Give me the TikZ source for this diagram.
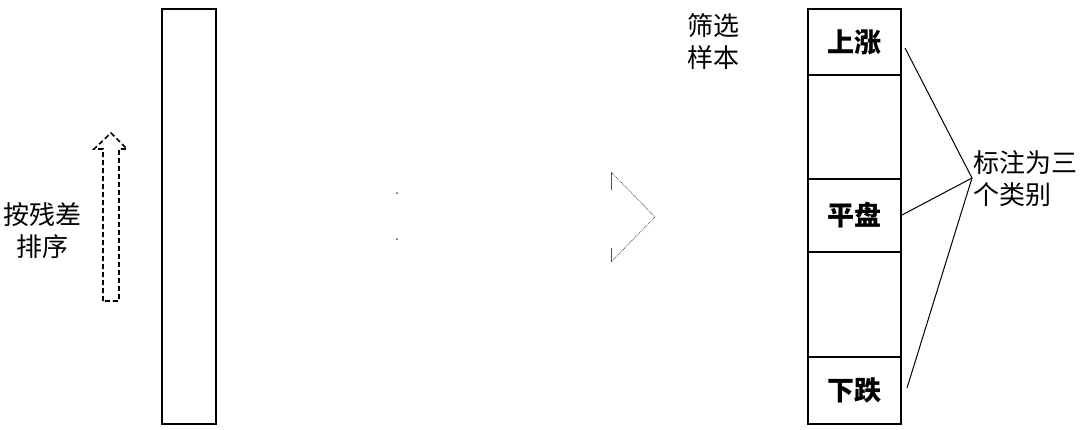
\documentclass[tikz,border=0pt]{standalone}
\usepackage{fontspec}
\setmainfont{Noto Sans CJK SC}
\usetikzlibrary{positioning}
\tikzset{
  cellbox/.style={draw=black, line width=2pt, minimum width=93pt, inner sep=0pt, font=\bfseries\fontsize{27}{27}\selectfont},
  note/.style={align=center, inner sep=0pt, font=\fontsize{26}{32}\selectfont},
  pointer/.style={draw=black, line width=1pt}
}
\begin{document}
\begin{tikzpicture}[x=1pt, y=-1pt]
  \useasboundingbox (0,0) rectangle (1080,429);
  % 左侧样本列
  \node[draw=black, line width=2pt, minimum width=54pt, minimum height=415pt, inner sep=0pt] (allbar) at (189,216.5) {};
  \node[note] (sortnote) at (43,231) {按残差\\排序};
  % 虚线箭头
  \draw[dashed, line width=1.6pt, dash pattern=on 5pt off 3pt]
    (103,301) -- (103,149) -- (94,149) -- (111,133) -- (127,149) -- (119,149) -- (119,301) -- cycle;
  % 中间淡出箭头
  \draw[gray!60!black, line width=0.8pt] (611,172) -- (611,190) (611,248) -- (611,262);
  \draw[gray!60!black, line width=0.8pt, densely dotted] (611,172) -- (655,217) -- (611,262);
  \fill[gray!60!black] (397,193) circle (1pt) (397,239) circle (1pt);
  % 右侧筛选列
  \node[note] (picknote) at (713,42) {筛选\\样本};
  \node[cellbox, minimum height=66pt] (rise) at (854.5,42) {上涨};
  \node[cellbox, minimum height=104pt] (gapa) at (854.5,127) {};
  \node[cellbox, minimum height=73pt] (flat) at (854.5,215.5) {平盘};
  \node[cellbox, minimum height=105pt] (gapb) at (854.5,304.5) {};
  \node[cellbox, minimum height=67pt] (fall) at (854.5,390.5) {下跌};
  % 标注
  \node[note, align=left, anchor=west] (classnote) at (973,179) {标注为三\\个类别};
  \coordinate (meet) at (972,178);
  \coordinate (riseend) at (905,48);
  \coordinate (flatend) at (902,215);
  \coordinate (fallend) at (907,388);
  \draw[pointer] (riseend) -- (meet) -- (flatend);
  \draw[pointer] (meet) -- (fallend);
\end{tikzpicture}
\end{document}
